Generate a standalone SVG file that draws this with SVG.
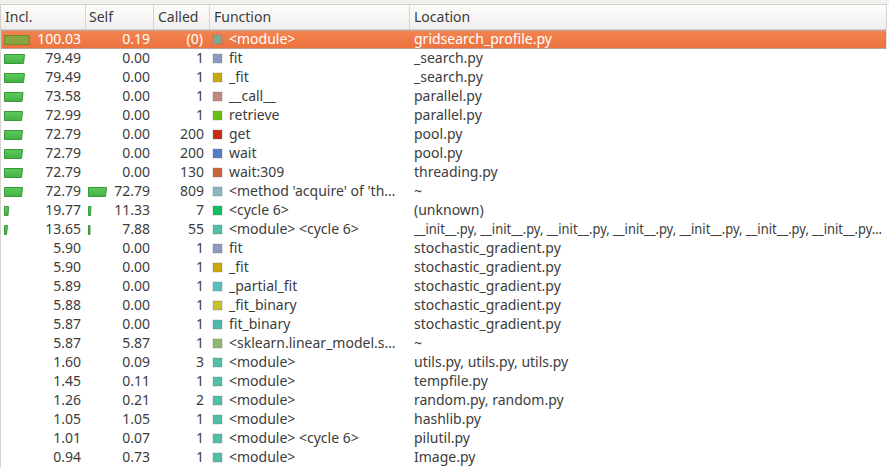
<svg xmlns="http://www.w3.org/2000/svg" width="889" height="468" viewBox="0 0 889 468">
<defs>
<linearGradient id="hdr" x1="0" y1="0" x2="0" y2="1"><stop offset="0" stop-color="#fdfdfc"/><stop offset="1" stop-color="#efeeec"/></linearGradient>
<linearGradient id="sel" x1="0" y1="0" x2="0" y2="1"><stop offset="0" stop-color="#f3844f"/><stop offset="1" stop-color="#ec7240"/></linearGradient>
<linearGradient id="bar" x1="0" y1="0" x2="0" y2="1"><stop offset="0" stop-color="#5ccc5c"/><stop offset="1" stop-color="#44b044"/></linearGradient>
</defs>
<style>
text{font-family:"Noto Sans","Open Sans","DejaVu Sans",sans-serif;font-size:14px;fill:#3c3c3c}
.n{text-anchor:end}
.h{fill:#3c3c3c}
.w{fill:#ffffff}
.b{fill:url(#bar);stroke:#3a963a;stroke-width:1}
.bs{fill:#8aa43e;stroke:#6d8a2a;stroke-width:1}
.sq{stroke:#6a6a6a;stroke-width:0.6;stroke-opacity:0.5}
.sep{stroke:#d8d5d1;stroke-width:1}
</style>
<rect x="0" y="0" width="889" height="468" fill="#ffffff"/>
<g id="header">
<rect x="0" y="0" width="889" height="5" fill="#f2f1f0"/>
<rect x="0.5" y="4.5" width="886" height="25" fill="url(#hdr)" stroke="#d3cfca"/>
<line class="sep" x1="85.5" y1="5" x2="85.5" y2="29"/>
<line class="sep" x1="153.5" y1="5" x2="153.5" y2="29"/>
<line class="sep" x1="209.5" y1="5" x2="209.5" y2="29"/>
<line class="sep" x1="409.5" y1="5" x2="409.5" y2="29"/>
<text class="h" x="5" y="22">Incl.</text>
<text class="h" x="89" y="22">Self</text>
<text class="h" x="158" y="22">Called</text>
<text class="h" x="214" y="22">Function</text>
<text class="h" x="414" y="22">Location</text>
</g>
<line x1="0.5" y1="30" x2="0.5" y2="468" stroke="#d8d5d1"/>
<g id="row0">
<rect x="1.5" y="30.5" width="884.5" height="18" fill="url(#sel)" stroke="#8a8a8a" stroke-dasharray="1,1"/>
<polygon class="bs" points="4.5,35.5 29.5,35.5 29.5,44.5 4.5,44.5"/>
<text class="n w" x="81" y="44">100.03</text><text class="n w" x="150" y="44">0.19</text><text class="n w" x="203" y="44">(0)</text>
<rect class="sq" x="213" y="35" width="9" height="9" fill="#7fa88f"/>
<text class="w" x="229" y="44">&lt;module&gt;</text><text class="w" x="414" y="44">gridsearch_profile.py</text>
</g>
<g id="row1" transform="translate(0,19)">
<polygon class="b" points="4.5,35.5 24.5,35.5 23.5,44.5 4.5,44.5"/>
<text class="n" x="81" y="44">79.49</text><text class="n" x="150" y="44">0.00</text><text class="n" x="204" y="44">1</text>
<rect class="sq" x="213" y="35" width="9" height="9" fill="#8e9ac0"/>
<text x="229" y="44">fit</text><text x="414" y="44">_search.py</text>
</g>
<g id="row2" transform="translate(0,38)">
<polygon class="b" points="4.5,35.5 24.5,35.5 23.5,44.5 4.5,44.5"/>
<text class="n" x="81" y="44">79.49</text><text class="n" x="150" y="44">0.00</text><text class="n" x="204" y="44">1</text>
<rect class="sq" x="213" y="35" width="9" height="9" fill="#c8aa10"/>
<text x="229" y="44">_fit</text><text x="414" y="44">_search.py</text>
</g>
<g id="row3" transform="translate(0,57)">
<polygon class="b" points="4.5,35.5 23,35.5 22,44.5 4.5,44.5"/>
<text class="n" x="81" y="44">73.58</text><text class="n" x="150" y="44">0.00</text><text class="n" x="204" y="44">1</text>
<rect class="sq" x="213" y="35" width="9" height="9" fill="#c08a80"/>
<text x="229" y="44">__call__</text><text x="414" y="44">parallel.py</text>
</g>
<g id="row4" transform="translate(0,76)">
<polygon class="b" points="4.5,35.5 22.5,35.5 21.5,44.5 4.5,44.5"/>
<text class="n" x="81" y="44">72.99</text><text class="n" x="150" y="44">0.00</text><text class="n" x="204" y="44">1</text>
<rect class="sq" x="213" y="35" width="9" height="9" fill="#6cc010"/>
<text x="229" y="44">retrieve</text><text x="414" y="44">parallel.py</text>
</g>
<g id="row5" transform="translate(0,95)">
<polygon class="b" points="4.5,35.5 22.5,35.5 21.5,44.5 4.5,44.5"/>
<text class="n" x="81" y="44">72.79</text><text class="n" x="150" y="44">0.00</text><text class="n" x="204" y="44">200</text>
<rect class="sq" x="213" y="35" width="9" height="9" fill="#c83010"/>
<text x="229" y="44">get</text><text x="414" y="44">pool.py</text>
</g>
<g id="row6" transform="translate(0,114)">
<polygon class="b" points="4.5,35.5 22.5,35.5 21.5,44.5 4.5,44.5"/>
<text class="n" x="81" y="44">72.79</text><text class="n" x="150" y="44">0.00</text><text class="n" x="204" y="44">200</text>
<rect class="sq" x="213" y="35" width="9" height="9" fill="#5a7cc8"/>
<text x="229" y="44">wait</text><text x="414" y="44">pool.py</text>
</g>
<g id="row7" transform="translate(0,133)">
<polygon class="b" points="4.5,35.5 22.5,35.5 21.5,44.5 4.5,44.5"/>
<text class="n" x="81" y="44">72.79</text><text class="n" x="150" y="44">0.00</text><text class="n" x="204" y="44">130</text>
<rect class="sq" x="213" y="35" width="9" height="9" fill="#c86838"/>
<text x="229" y="44">wait:309</text><text x="414" y="44">threading.py</text>
</g>
<g id="row8" transform="translate(0,152)">
<polygon class="b" points="4.5,35.5 22.5,35.5 21.5,44.5 4.5,44.5"/>
<polygon class="b" points="88.5,35.5 106.5,35.5 105.5,44.5 88.5,44.5"/>
<text class="n" x="81" y="44">72.79</text><text class="n" x="150" y="44">72.79</text><text class="n" x="204" y="44">809</text>
<rect class="sq" x="213" y="35" width="9" height="9" fill="#88b8c0"/>
<text x="229" y="44">&lt;method 'acquire' of 'th…</text><text x="414" y="44">~</text>
</g>
<g id="row9" transform="translate(0,171)">
<polygon class="b" points="4.5,35.5 8.5,35.5 8,44.5 4.5,44.5"/>
<polygon class="b" points="88.5,35.5 91,35.5 90.5,44.5 88.5,44.5"/>
<text class="n" x="81" y="44">19.77</text><text class="n" x="150" y="44">11.33</text><text class="n" x="204" y="44">7</text>
<rect class="sq" x="213" y="35" width="9" height="9" fill="#10c060"/>
<text x="229" y="44">&lt;cycle 6&gt;</text><text x="414" y="44">(unknown)</text>
</g>
<g id="row10" transform="translate(0,190)">
<polygon class="b" points="4.5,35.5 7.5,35.5 6.5,44.5 4.5,44.5"/>
<polygon class="b" points="88.5,35.5 90,35.5 90,44.5 88.5,44.5"/>
<text class="n" x="81" y="44">13.65</text><text class="n" x="150" y="44">7.88</text><text class="n" x="204" y="44">55</text>
<rect class="sq" x="213" y="35" width="9" height="9" fill="#50c0a8"/>
<text x="229" y="44">&lt;module&gt; &lt;cycle 6&gt;</text><text x="414" y="44" textLength="468" lengthAdjust="spacingAndGlyphs">__init__.py, __init__.py, __init__.py, __init__.py, __init__.py, __init__.py, __init__.py…</text>
</g>
<g id="row11" transform="translate(0,209)">
<text class="n" x="81" y="44">5.90</text><text class="n" x="150" y="44">0.00</text><text class="n" x="204" y="44">1</text>
<rect class="sq" x="213" y="35" width="9" height="9" fill="#8e9ac0"/>
<text x="229" y="44">fit</text><text x="414" y="44">stochastic_gradient.py</text>
</g>
<g id="row12" transform="translate(0,228)">
<text class="n" x="81" y="44">5.90</text><text class="n" x="150" y="44">0.00</text><text class="n" x="204" y="44">1</text>
<rect class="sq" x="213" y="35" width="9" height="9" fill="#c8aa10"/>
<text x="229" y="44">_fit</text><text x="414" y="44">stochastic_gradient.py</text>
</g>
<g id="row13" transform="translate(0,247)">
<text class="n" x="81" y="44">5.89</text><text class="n" x="150" y="44">0.00</text><text class="n" x="204" y="44">1</text>
<rect class="sq" x="213" y="35" width="9" height="9" fill="#58c0c0"/>
<text x="229" y="44">_partial_fit</text><text x="414" y="44">stochastic_gradient.py</text>
</g>
<g id="row14" transform="translate(0,266)">
<text class="n" x="81" y="44">5.88</text><text class="n" x="150" y="44">0.00</text><text class="n" x="204" y="44">1</text>
<rect class="sq" x="213" y="35" width="9" height="9" fill="#c8c030"/>
<text x="229" y="44">_fit_binary</text><text x="414" y="44">stochastic_gradient.py</text>
</g>
<g id="row15" transform="translate(0,285)">
<text class="n" x="81" y="44">5.87</text><text class="n" x="150" y="44">0.00</text><text class="n" x="204" y="44">1</text>
<rect class="sq" x="213" y="35" width="9" height="9" fill="#50b8b0"/>
<text x="229" y="44">fit_binary</text><text x="414" y="44">stochastic_gradient.py</text>
</g>
<g id="row16" transform="translate(0,304)">
<text class="n" x="81" y="44">5.87</text><text class="n" x="150" y="44">5.87</text><text class="n" x="204" y="44">1</text>
<rect class="sq" x="213" y="35" width="9" height="9" fill="#90b870"/>
<text x="229" y="44">&lt;sklearn.linear_model.s…</text><text x="414" y="44">~</text>
</g>
<g id="row17" transform="translate(0,323)">
<text class="n" x="81" y="44">1.60</text><text class="n" x="150" y="44">0.09</text><text class="n" x="204" y="44">3</text>
<rect class="sq" x="213" y="35" width="9" height="9" fill="#50c0a8"/>
<text x="229" y="44">&lt;module&gt;</text><text x="414" y="44">utils.py, utils.py, utils.py</text>
</g>
<g id="row18" transform="translate(0,342)">
<text class="n" x="81" y="44">1.45</text><text class="n" x="150" y="44">0.11</text><text class="n" x="204" y="44">1</text>
<rect class="sq" x="213" y="35" width="9" height="9" fill="#50c0a8"/>
<text x="229" y="44">&lt;module&gt;</text><text x="414" y="44">tempfile.py</text>
</g>
<g id="row19" transform="translate(0,361)">
<text class="n" x="81" y="44">1.26</text><text class="n" x="150" y="44">0.21</text><text class="n" x="204" y="44">2</text>
<rect class="sq" x="213" y="35" width="9" height="9" fill="#50c0a8"/>
<text x="229" y="44">&lt;module&gt;</text><text x="414" y="44">random.py, random.py</text>
</g>
<g id="row20" transform="translate(0,380)">
<text class="n" x="81" y="44">1.05</text><text class="n" x="150" y="44">1.05</text><text class="n" x="204" y="44">1</text>
<rect class="sq" x="213" y="35" width="9" height="9" fill="#50c0a8"/>
<text x="229" y="44">&lt;module&gt;</text><text x="414" y="44">hashlib.py</text>
</g>
<g id="row21" transform="translate(0,399)">
<text class="n" x="81" y="44">1.01</text><text class="n" x="150" y="44">0.07</text><text class="n" x="204" y="44">1</text>
<rect class="sq" x="213" y="35" width="9" height="9" fill="#50c0a8"/>
<text x="229" y="44">&lt;module&gt; &lt;cycle 6&gt;</text><text x="414" y="44">pilutil.py</text>
</g>
<g id="row22" transform="translate(0,418)">
<text class="n" x="81" y="44">0.94</text><text class="n" x="150" y="44">0.73</text><text class="n" x="204" y="44">1</text>
<rect class="sq" x="213" y="35" width="9" height="9" fill="#50c0a8"/>
<text x="229" y="44">&lt;module&gt;</text><text x="414" y="44">Image.py</text>
</g>
<g id="connectors"/>
</svg>
